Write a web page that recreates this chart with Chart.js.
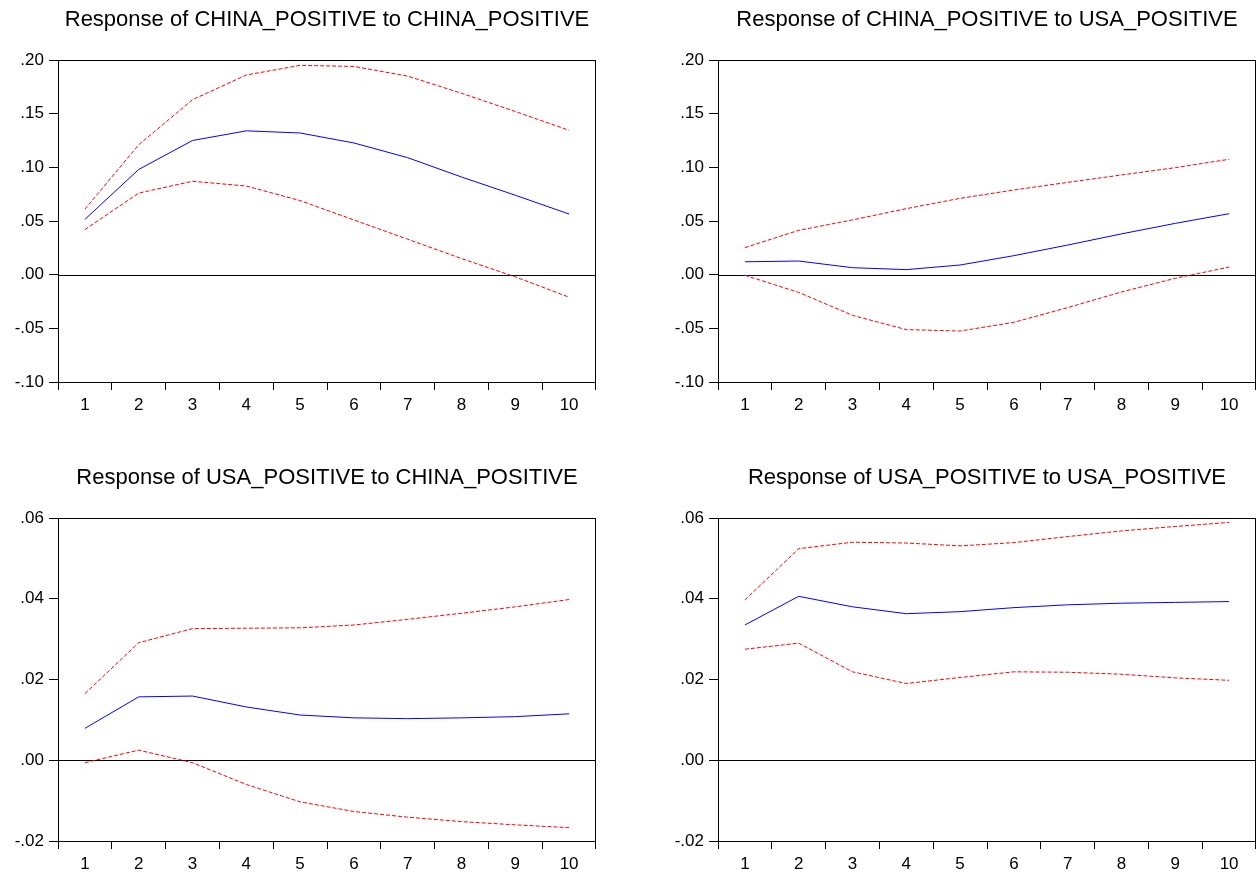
<!DOCTYPE html>
<html>
<head>
<meta charset="utf-8">
<script src="https://cdn.jsdelivr.net/npm/chart.js@4.4.1/dist/chart.umd.min.js"></script>
<style>
  body { margin: 0; background: #fff; }
  canvas { position: absolute; }
</style>
</head>
<body>
<canvas id="p1" width="610" height="412" style="left:0;top:0"></canvas>
<canvas id="p2" width="617" height="412" style="left:640px;top:0"></canvas>
<canvas id="p3" width="610" height="413" style="left:0;top:458px"></canvas>
<canvas id="p4" width="617" height="413" style="left:640px;top:458px"></canvas>
<script>
// impulse responses, periods 1..10
const periods = ["1", "2", "3", "4", "5", "6", "7", "8", "9", "10"];

const chinaChinaResp  = [0.0515, 0.098, 0.125, 0.134, 0.132, 0.1227, 0.109, 0.091, 0.074, 0.0565];
const chinaChinaUpper = [0.061, 0.121, 0.163, 0.186, 0.195, 0.194, 0.185, 0.169, 0.152, 0.1345];
const chinaChinaLower = [0.042, 0.076, 0.087, 0.0826, 0.069, 0.051, 0.033, 0.015, -0.002, -0.021];

const chinaUsaResp  = [0.012, 0.0127, 0.0065, 0.0047, 0.009, 0.0177, 0.0276, 0.038, 0.0478, 0.0568];
const chinaUsaUpper = [0.0252, 0.0413, 0.051, 0.0615, 0.0711, 0.0789, 0.086, 0.0929, 0.0997, 0.1075];
const chinaUsaLower = [-0.0006, -0.0165, -0.0379, -0.0512, -0.0525, -0.0444, -0.0307, -0.0161, -0.0034, 0.0071];

const usaChinaResp  = [0.0079, 0.0157, 0.0159, 0.0132, 0.0112, 0.0105, 0.0103, 0.0105, 0.0108, 0.0115];
const usaChinaUpper = [0.0165, 0.0291, 0.0326, 0.0327, 0.0328, 0.0335, 0.0349, 0.0364, 0.038, 0.0398];
const usaChinaLower = [-0.0006, 0.0025, -0.0006, -0.006, -0.0103, -0.0127, -0.0141, -0.0152, -0.016, -0.0167];

const usaUsaResp  = [0.0335, 0.0406, 0.038, 0.0363, 0.0368, 0.0378, 0.0385, 0.0389, 0.0391, 0.0393];
const usaUsaUpper = [0.0397, 0.0524, 0.054, 0.0538, 0.0531, 0.0539, 0.0554, 0.0568, 0.0579, 0.0589];
const usaUsaLower = [0.0275, 0.029, 0.0219, 0.019, 0.0205, 0.0219, 0.0218, 0.0213, 0.0204, 0.0198];

const FONT = "'Liberation Sans', Arial, sans-serif";

// zero line under the lines, box frame on top
const framePlugin = {
  id: "frame",
  beforeDatasetsDraw(chart) {
    const { ctx, chartArea: a, scales } = chart;
    const y0 = Math.round(scales.y.getPixelForValue(0)) + 0.5;
    ctx.save();
    ctx.strokeStyle = "#000";
    ctx.lineWidth = 1;
    ctx.beginPath();
    ctx.moveTo(a.left, y0);
    ctx.lineTo(a.right, y0);
    ctx.stroke();
    ctx.restore();
  },
  afterDatasetsDraw(chart) {
    const { ctx, chartArea: a } = chart;
    ctx.save();
    ctx.strokeStyle = "#000";
    ctx.lineWidth = 1;
    ctx.strokeRect(Math.round(a.left) + 0.5, Math.round(a.top) + 0.5,
      Math.round(a.right - a.left) - 1, Math.round(a.bottom - a.top));
    ctx.restore();
  }
};

function fmt(v) {
  return v.toFixed(2).replace(/^(-?)0\./, "$1.");
}

function makePanel(id, title, resp, upper, lower, yMin, yMax, step, yWidth, padRight) {
  const band = (data) => ({
    data: data,
    borderColor: "#ff0000",
    borderWidth: 1,
    borderDash: [4, 2],
    pointRadius: 0,
    tension: 0,
    fill: false
  });
  new Chart(document.getElementById(id), {
    type: "line",
    data: {
      labels: periods,
      datasets: [
        band(upper),
        band(lower),
        { data: resp, borderColor: "#0000ff", borderWidth: 1, pointRadius: 0, tension: 0, fill: false }
      ]
    },
    options: {
      responsive: false,
      animation: false,
      layout: { padding: { left: 0, right: padRight, top: 0, bottom: 0 } },
      plugins: {
        legend: { display: false },
        tooltip: { enabled: false },
        title: {
          display: true,
          text: title,
          fullSize: false,
          color: "#000",
          font: { family: FONT, size: 22, weight: "normal", lineHeight: 1.2 },
          padding: { top: 7, bottom: 26.6 }
        }
      },
      scales: {
        x: {
          offset: true,
          afterFit: (s) => { s.height = 30; },
          grid: { offset: true, drawOnChartArea: false, tickLength: 8, color: "#000" },
          border: { display: false },
          ticks: { color: "#000", padding: 5, maxRotation: 0, font: { family: FONT, size: 17 } }
        },
        y: {
          min: yMin,
          max: yMax,
          afterFit: (s) => { s.width = yWidth; },
          grid: { drawOnChartArea: false, tickLength: 9, color: "#000" },
          border: { display: false },
          ticks: {
            stepSize: step,
            color: "#000",
            padding: 5,
            font: { family: FONT, size: 17 },
            callback: (v) => fmt(v)
          }
        }
      }
    },
    plugins: [framePlugin]
  });
}

makePanel("p1", "Response of CHINA_POSITIVE to CHINA_POSITIVE",
  chinaChinaResp, chinaChinaUpper, chinaChinaLower, -0.10, 0.20, 0.05, 58, 14);
makePanel("p2", "Response of CHINA_POSITIVE to USA_POSITIVE",
  chinaUsaResp, chinaUsaUpper, chinaUsaLower, -0.10, 0.20, 0.05, 78, 1);
makePanel("p3", "Response of USA_POSITIVE to CHINA_POSITIVE",
  usaChinaResp, usaChinaUpper, usaChinaLower, -0.02, 0.06, 0.02, 58, 14);
makePanel("p4", "Response of USA_POSITIVE to USA_POSITIVE",
  usaUsaResp, usaUsaUpper, usaUsaLower, -0.02, 0.06, 0.02, 78, 1);
</script>
</body>
</html>
